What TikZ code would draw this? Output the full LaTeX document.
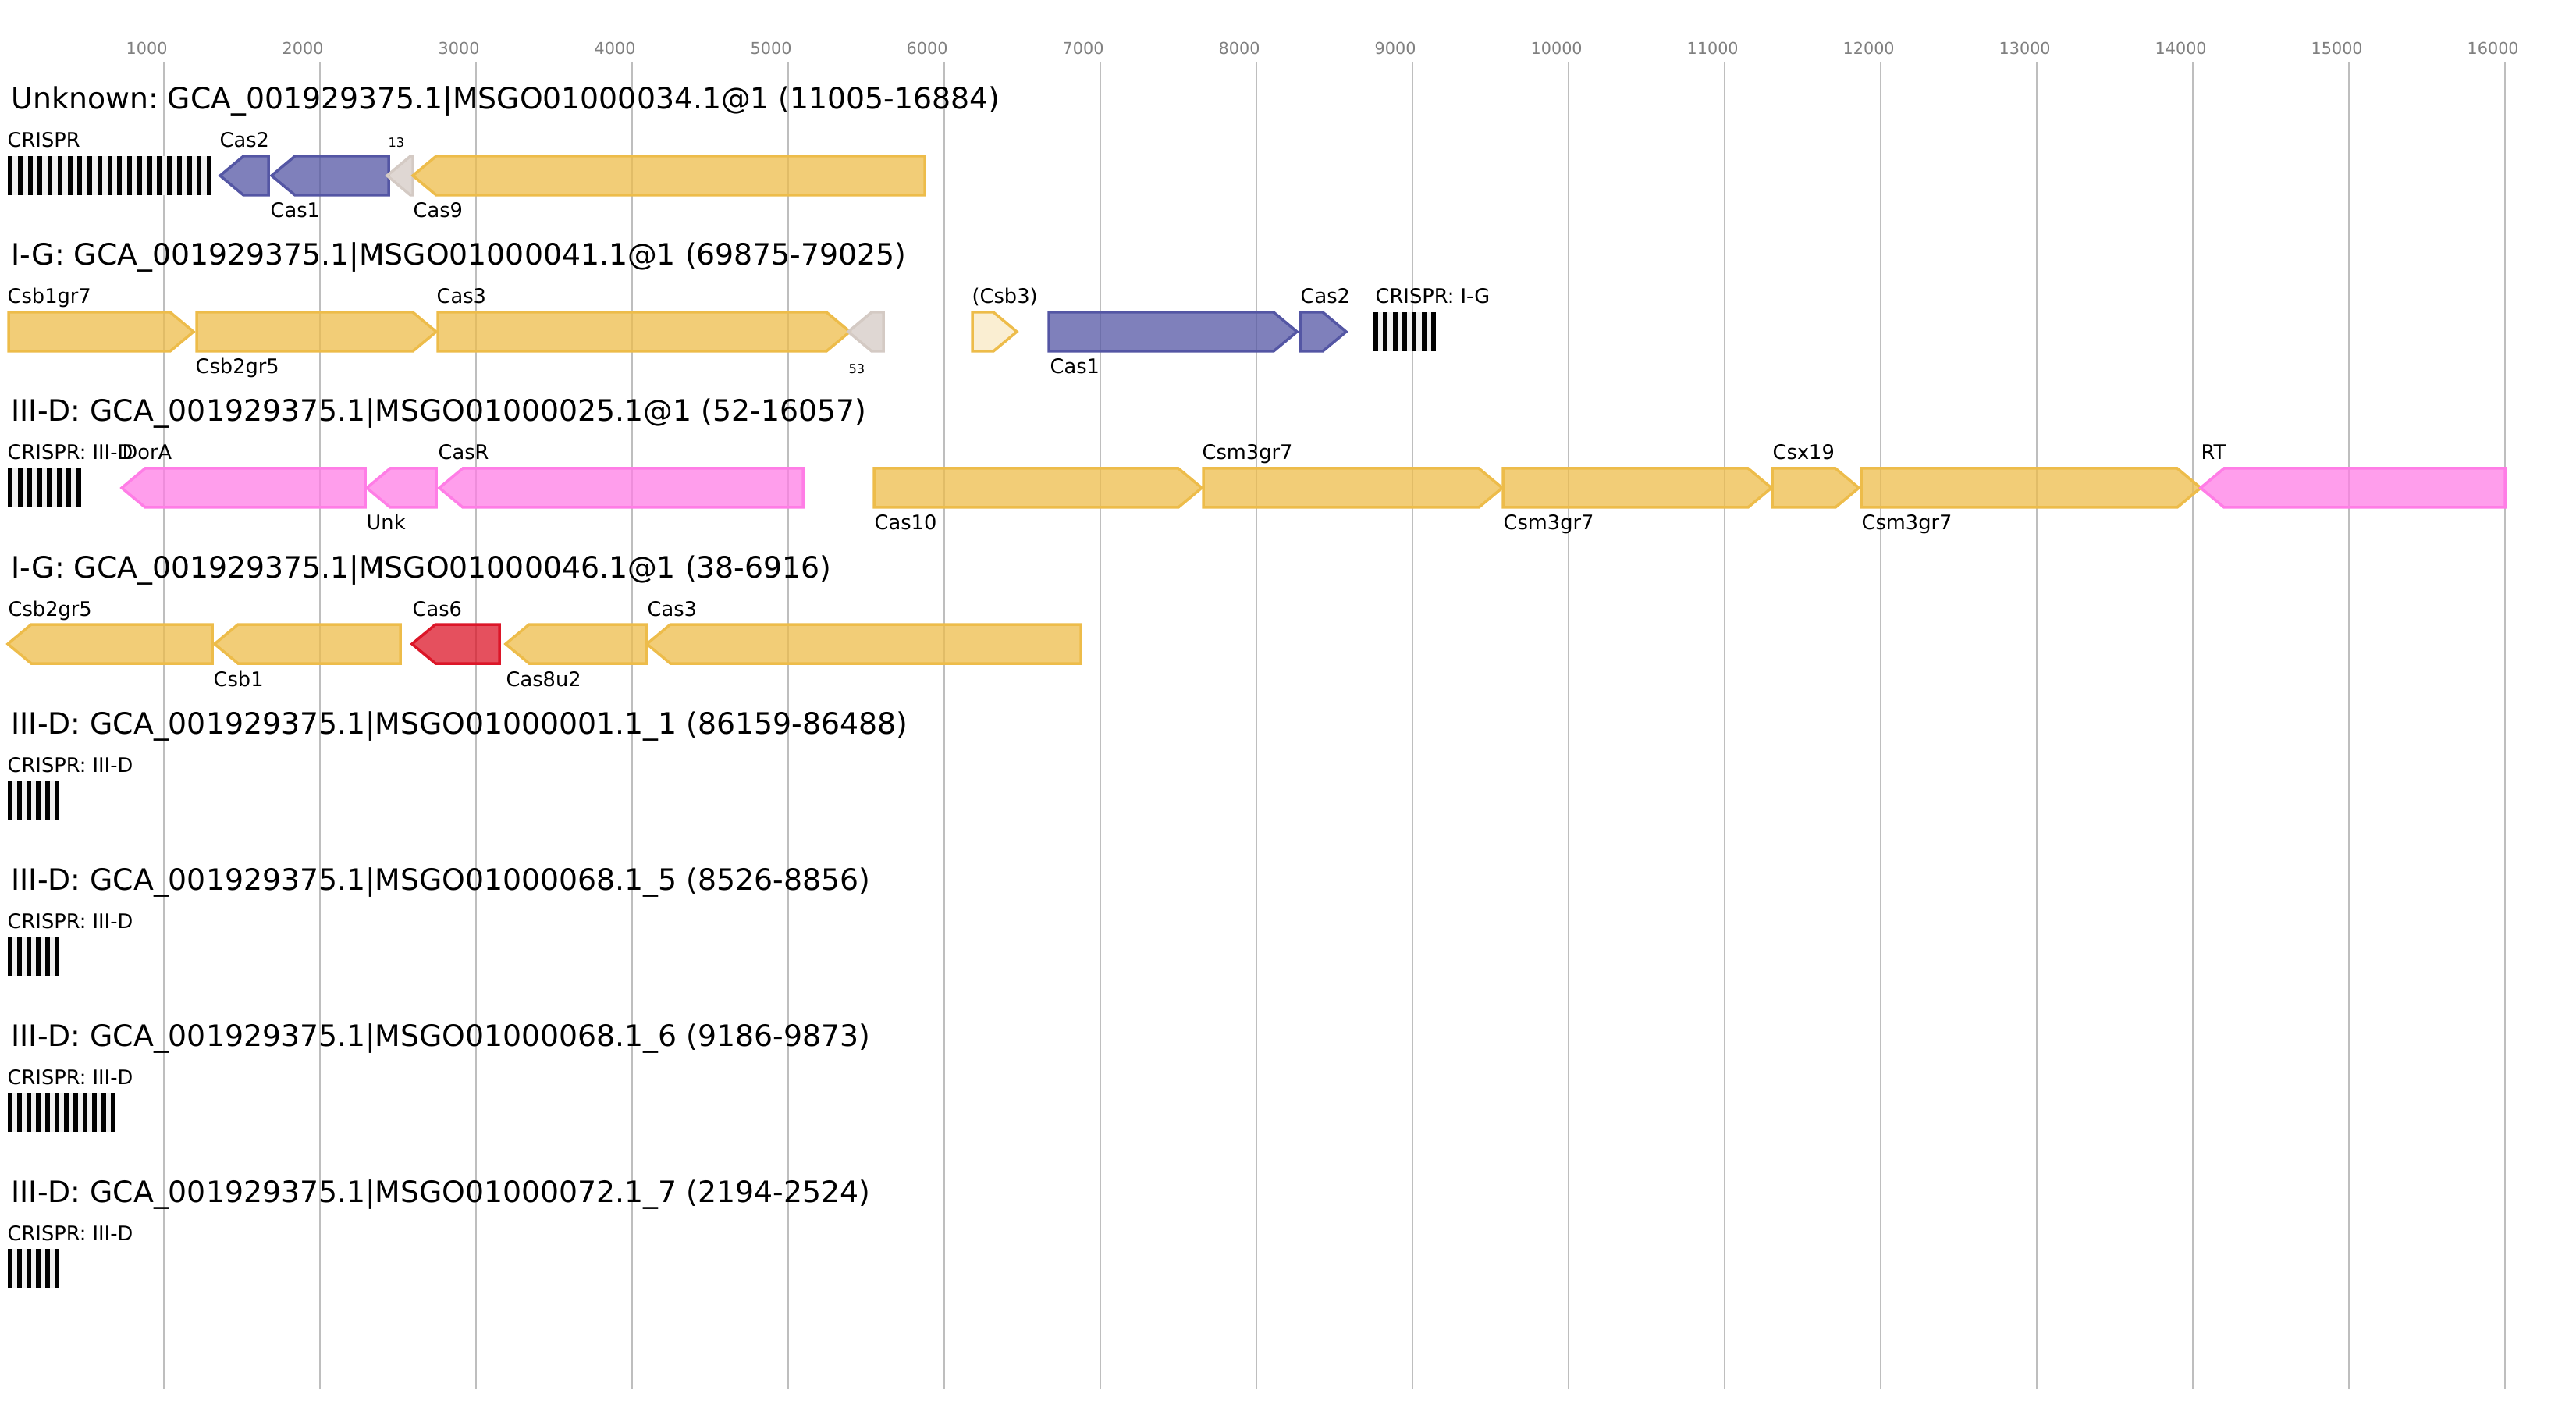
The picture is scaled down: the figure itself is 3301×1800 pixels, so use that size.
\documentclass[tikz,border=0pt]{standalone}
\usepackage{fontspec}
\setmainfont{DejaVu Sans}
\usepackage{tikz}
\frenchspacing
\definecolor{gene_yellow}{RGB}{237,188,74}
\definecolor{gene_blue}{RGB}{84,86,164}
\definecolor{gene_pink}{RGB}{255,125,230}
\definecolor{gene_red}{RGB}{220,22,40}
\definecolor{gene_grey}{RGB}{212,202,196}
\definecolor{crispr_bg}{RGB}{240,240,240}
\definecolor{grid_grey}{RGB}{190,190,190}
\definecolor{tick_grey}{RGB}{128,128,128}
\tikzstyle{yg}=[draw=gene_yellow,fill=gene_yellow,fill opacity=0.75,line width=0.35mm]
\tikzstyle{ly}=[draw=gene_yellow,fill=gene_yellow,fill opacity=0.25,line width=0.35mm]
\tikzstyle{bg}=[draw=gene_blue,fill=gene_blue,fill opacity=0.75,line width=0.35mm]
\tikzstyle{pg}=[draw=gene_pink,fill=gene_pink,fill opacity=0.75,line width=0.35mm]
\tikzstyle{rg}=[draw=gene_red,fill=gene_red,fill opacity=0.75,line width=0.35mm]
\tikzstyle{gg}=[draw=gene_grey,fill=gene_grey,fill opacity=0.75,line width=0.35mm]
\tikzstyle{gridline}=[draw=grid_grey,line width=0.2mm]
\tikzstyle{lab}=[font=\fontsize{7.3}{8}\selectfont,anchor=base west,inner sep=0pt]
\tikzstyle{tinylab}=[font=\fontsize{4.6}{5}\selectfont,anchor=base west,inner sep=0pt]
\tikzstyle{rowtitle}=[font=\fontsize{10.75}{12}\selectfont,anchor=base west,inner sep=0pt]
\tikzstyle{ticklab}=[font=\fontsize{5.9}{7}\selectfont,text=tick_grey,anchor=base west,inner sep=0pt]
% gene pointing right: style, left end, tip, centre line
\newcommand{\rgene}[4]{%
  \draw[#1] (#2+2,#4-25) -- ({max(#2+2,#3-32)},#4-25) -- (#3-2,#4)
    -- ({max(#2+2,#3-32)},#4+25) -- (#2+2,#4+25) -- cycle;}
% gene pointing left: style, tip, right end, centre line
\newcommand{\lgene}[4]{%
  \draw[#1] (#3-2,#4-25) -- ({min(#3-2,#2+32)},#4-25) -- (#2+2,#4)
    -- ({min(#3-2,#2+32)},#4+25) -- (#3-2,#4+25) -- cycle;}
% crispr array: left end, number of repeats, pitch, centre line
\newcommand{\crispr}[4]{%
  \fill[crispr_bg] (#1,#4-25) rectangle ({#1+6+(#2-1)*#3},#4+25);
  \foreach \k in {1,...,#2} \fill[black] ({#1+(\k-1)*#3},#4-25) rectangle ++(6,50);}

\begin{document}
\begin{tikzpicture}[x=0.1mm,y=-0.1mm]
            \useasboundingbox (0,0) rectangle (3301,1800);
            % ruler
            \foreach \k in {1,...,16} {
                \draw [style=gridline] (10+200*\k,80) -- (10+200*\k,1780);
                \node [style=ticklab] (g\k) at (10+200*\k-49,70) {\k000};
            }
            % row 1
            \node [style=rowtitle] (0) at (14,140) {Unknown: GCA\_001929375.1|MSGO01000034.1@1 (11005-16884)};
            \crispr{10}{21}{12.76}{225}
            \lgene{bg}{280}{346}{225}
            \lgene{bg}{346}{500}{225}
            \lgene{gg}{494}{531}{225}
            \lgene{yg}{527}{1187}{225}
            \node [style=lab] (1) at (9,189) {CRISPR};
            \node [style=lab] (2) at (281,189) {Cas2};
            \node [style=lab] (3) at (346,279) {Cas1};
            \node [style=tinylab] (4) at (497,189) {13};
            \node [style=lab] (5) at (529,279) {Cas9};
            % row 2
            \node [style=rowtitle] (6) at (14,340) {I-G: GCA\_001929375.1|MSGO01000041.1@1 (69875-79025)};
            \rgene{yg}{9}{250}{425}
            \rgene{yg}{250}{561}{425}
            \rgene{yg}{559}{1091}{425}
            \lgene{gg}{1085}{1134}{425}
            \rgene{ly}{1244}{1305}{425}
            \rgene{bg}{1342}{1664}{425}
            \rgene{bg}{1664}{1727}{425}
            \crispr{1760}{7}{12.33}{425}
            \node [style=lab] (7) at (9,389) {Csb1gr7};
            \node [style=lab] (8) at (250,479) {Csb2gr5};
            \node [style=lab] (9) at (559,389) {Cas3};
            \node [style=tinylab] (10) at (1087,479) {53};
            \node [style=lab] (11) at (1245,389) {(Csb3)};
            \node [style=lab] (12) at (1345,479) {Cas1};
            \node [style=lab] (13) at (1666,389) {Cas2};
            \node [style=lab] (14) at (1762,389) {CRISPR: I-G};
            % row 3
            \node [style=rowtitle] (15) at (14,540) {III-D: GCA\_001929375.1|MSGO01000025.1@1 (52-16057)};
            \crispr{10}{8}{12.57}{625}
            \lgene{pg}{154}{470}{625}
            \lgene{pg}{468}{561}{625}
            \lgene{pg}{561}{1031}{625}
            \rgene{yg}{1118}{1542}{625}
            \rgene{yg}{1540}{1927}{625}
            \rgene{yg}{1924}{2272}{625}
            \rgene{yg}{2269}{2384}{625}
            \rgene{yg}{2383}{2822}{625}
            \lgene{pg}{2818}{3212}{625}
            \node [style=lab] (16) at (9,589) {CRISPR: III-D};
            \node [style=lab] (17) at (156,589) {DorA};
            \node [style=lab] (18) at (469,679) {Unk};
            \node [style=lab] (19) at (561,589) {CasR};
            \node [style=lab] (20) at (1120,679) {Cas10};
            \node [style=lab] (21) at (1540,589) {Csm3gr7};
            \node [style=lab] (22) at (1926,679) {Csm3gr7};
            \node [style=lab] (23) at (2271,589) {Csx19};
            \node [style=lab] (24) at (2385,679) {Csm3gr7};
            \node [style=lab] (25) at (2820,589) {RT};
            % row 4
            \node [style=rowtitle] (26) at (14,740) {I-G: GCA\_001929375.1|MSGO01000046.1@1 (38-6916)};
            \lgene{yg}{8}{274}{825}
            \lgene{yg}{273}{515}{825}
            \lgene{rg}{526}{642}{825}
            \lgene{yg}{646}{830}{825}
            \lgene{yg}{827}{1387}{825}
            \node [style=lab] (27) at (10,789) {Csb2gr5};
            \node [style=lab] (28) at (273,879) {Csb1};
            \node [style=lab] (29) at (528,789) {Cas6};
            \node [style=lab] (30) at (648,879) {Cas8u2};
            \node [style=lab] (31) at (829,789) {Cas3};
            % rows 5 to 8
            \node [style=rowtitle] (32) at (14,940) {III-D: GCA\_001929375.1|MSGO01000001.1\_1 (86159-86488)};
            \crispr{10}{6}{12}{1025}
            \node [style=lab] (33) at (9,989) {CRISPR: III-D};
            \node [style=rowtitle] (34) at (14,1140) {III-D: GCA\_001929375.1|MSGO01000068.1\_5 (8526-8856)};
            \crispr{10}{6}{12}{1225}
            \node [style=lab] (35) at (9,1189) {CRISPR: III-D};
            \node [style=rowtitle] (36) at (14,1340) {III-D: GCA\_001929375.1|MSGO01000068.1\_6 (9186-9873)};
            \crispr{10}{12}{12}{1425}
            \node [style=lab] (37) at (9,1389) {CRISPR: III-D};
            \node [style=rowtitle] (38) at (14,1540) {III-D: GCA\_001929375.1|MSGO01000072.1\_7 (2194-2524)};
            \crispr{10}{6}{12}{1625}
            \node [style=lab] (39) at (9,1589) {CRISPR: III-D};
    \end{tikzpicture}
\end{document}
